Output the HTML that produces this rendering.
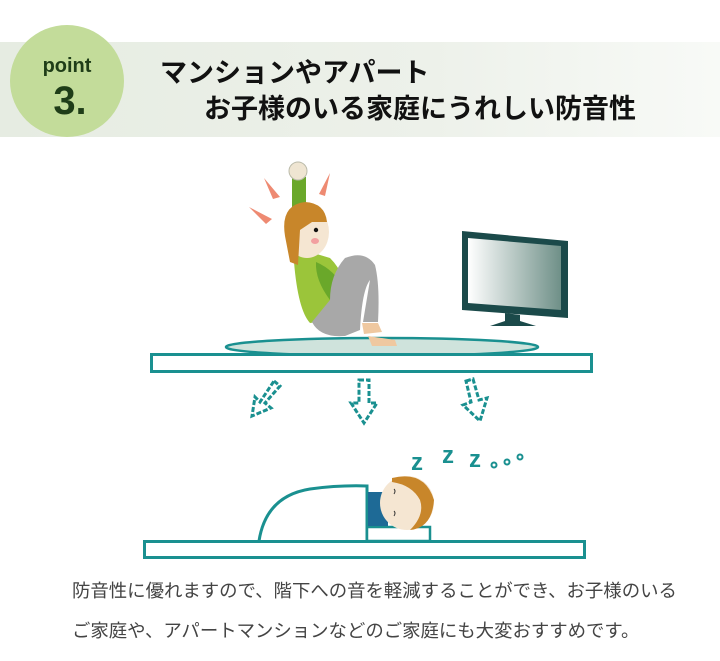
<!DOCTYPE html>
<html><head><meta charset="utf-8"><style>
body{margin:0;width:720px;height:661px;overflow:hidden;background:#fff;font-family:"Liberation Sans","Noto Sans CJK JP",sans-serif}
</style></head><body>
<svg width="720" height="661" viewBox="0 0 720 661" xmlns="http://www.w3.org/2000/svg" style="position:absolute;left:0;top:0">
<defs>
<linearGradient id="band" x1="0" x2="1"><stop offset="0" stop-color="#e6ece2"/><stop offset="0.6" stop-color="#edf1ea"/><stop offset="1" stop-color="#f8faf7"/></linearGradient>
<linearGradient id="scr" x1="0" x2="1"><stop offset="0" stop-color="#ffffff"/><stop offset="1" stop-color="#6f9088"/></linearGradient>
</defs>
<rect x="0" y="42" width="720" height="95" fill="url(#band)"/>
<ellipse cx="67" cy="81" rx="57" ry="56" fill="#c3dc9a"/>
<text x="67" y="72" text-anchor="middle" font-size="20" font-weight="bold" fill="#1f3d18">point</text>
<text x="70" y="114" text-anchor="middle" font-size="40" font-weight="bold" fill="#1f3d18">3.</text>
<text x="160" y="82" font-size="27" font-weight="bold" fill="#111" font-family="Liberation Sans,Noto Sans CJK JP,sans-serif">マンションやアパート</text>
<text x="204" y="118" font-size="27" font-weight="bold" fill="#111" font-family="Liberation Sans,Noto Sans CJK JP,sans-serif">お子様のいる家庭にうれしい防音性</text>

<ellipse cx="382" cy="347" rx="156" ry="9" fill="#cfe3dc" stroke="#1a9090" stroke-width="2.5"/>
<rect x="151.5" y="354.5" width="440" height="17" fill="#fff" stroke="#1a9090" stroke-width="3"/>

<polygon points="462,231 568,241 568,318 462,310" fill="#1b4a4a"/>
<polygon points="468,238 561,246 561,310 468,303" fill="url(#scr)"/>
<polygon points="505,313 520,315 520,321 536,326 490,326 505,321" fill="#1b4a4a"/>

<polygon points="249,207 272,219 266,224" fill="#ee8a72"/>
<polygon points="264,178 280,197 273,199" fill="#ee8a72"/>
<polygon points="330,173 319,194 325,196" fill="#ee8a72"/>
<rect x="292" y="177" width="14" height="30" fill="#6aa82a"/>
<ellipse cx="298" cy="171" rx="9" ry="9" fill="#efe5d2" stroke="#bba" stroke-width="1"/>
<path d="M294,262 Q292,250 310,252 L330,258 Q352,280 345,318 L310,323 Q298,310 294,262Z" fill="#9bc53a"/>
<path d="M316,262 Q335,270 345,290 L330,300 Q315,280 316,262Z" fill="#6aa82a"/>
<path d="M312,322 Q320,338 345,336 L360,330 Q362,290 370,280 L363,322 L378,322 Q380,285 375,265 Q365,250 345,258 Q330,275 330,300Z" fill="#a8a8a8"/>
<path d="M362,323 L378,323 L382,332 L364,334Z" fill="#efc8a0"/>
<path d="M368,336 L395,340 L397,346 L372,346Z" fill="#efc8a0"/>
<ellipse cx="307" cy="232" rx="22" ry="26" fill="#f5e6d2"/>
<path d="M285,236 Q280,205 305,202 Q325,203 327,222 L312,222 L300,230 L298,265 L290,262 Z" fill="#c8862a"/>
<circle cx="316" cy="230" r="2.2" fill="#111"/>
<ellipse cx="315" cy="241" rx="4" ry="3" fill="#f2a0a0"/>

<g fill="none" stroke="#1a9090" stroke-width="3" stroke-dasharray="5,2">
<path d="M274,381 L280,386 L265,403 L271,408 L252,416 L255,397 L260,402 Z"/>
<path d="M359,380 L369,380 L369,403 L377,403 L364,423 L351,403 L359,403 Z"/>
<path d="M466,381 L473,379 L479,400 L487,398 L480,421 L463,405 L471,402 Z"/>
</g>

<path d="M259,541 Q266,496 310,489 Q340,485 367,486 L367,541" fill="#fff" stroke="#1a9090" stroke-width="3"/>
<rect x="367" y="527" width="63" height="14" fill="#fff" stroke="#1a9090" stroke-width="2.5"/>
<rect x="368" y="492" width="20" height="34" fill="#1e6a96"/>
<circle cx="407" cy="503" r="27" fill="#f5e6d2"/>
<path d="M392,478 Q425,470 434,500 Q432,528 410,530 Q425,515 420,500 Q412,485 392,482Z" fill="#c8862a"/>
<path d="M394,489 q2,2 0,5 M394,511 q2,2 0,5" stroke="#333" stroke-width="1" fill="none"/>
<rect x="144.5" y="541.5" width="440" height="16" fill="#fff" stroke="#1a9090" stroke-width="3"/>
<g font-size="24" font-weight="bold" fill="#1a9090">
<text x="411" y="470">z</text><text x="442" y="463">z</text><text x="469" y="467">z</text>
</g>
<g fill="none" stroke="#1a9090" stroke-width="2"><circle cx="494" cy="465" r="2.5"/><circle cx="507" cy="462" r="2.5"/><circle cx="520" cy="457" r="2.5"/></g>

<text x="72" y="597" font-size="18.4" fill="#444">防音性に優れますので、階下への音を軽減することができ、お子様のいる</text>
<text x="72" y="637" font-size="18.4" fill="#444">ご家庭や、アパートマンションなどのご家庭にも大変おすすめです。</text>
</svg>
</body></html>
